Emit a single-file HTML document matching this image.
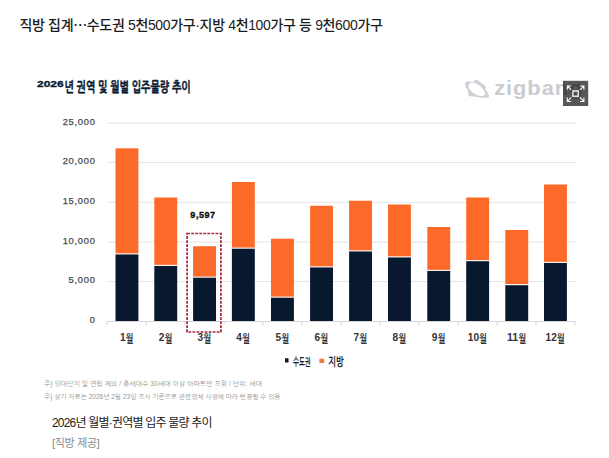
<!DOCTYPE html>
<html lang="ko"><head><meta charset="utf-8"><title>직방 집계</title>
<style>
html,body{margin:0;padding:0;background:#fff;}
body{width:609px;height:458px;position:relative;overflow:hidden;font-family:"Liberation Sans","Noto Sans CJK KR",sans-serif;}
.hd{position:absolute;left:19.5px;top:13px;font-size:14px;line-height:22px;color:#1c1c1c;white-space:nowrap;letter-spacing:-0.35px;font-weight:500;}
.el{font-family:"Noto Sans CJK JP","Noto Sans CJK KR",sans-serif;}
.cap{position:absolute;left:52px;top:412.5px;font-size:12px;line-height:20px;color:#1c1c1c;white-space:nowrap;letter-spacing:-0.8px;}
.src{position:absolute;left:52px;top:432.5px;font-size:11px;line-height:20px;color:#8a8a8a;white-space:nowrap;letter-spacing:-0.3px;}
svg text{font-family:"Liberation Sans","NanumGothic","Noto Sans CJK KR",sans-serif;}
.yl{font-size:9.3px;fill:#4a4a4a;letter-spacing:0.75px;stroke:#4a4a4a;stroke-width:0.25px;}
.xd{font-size:10px;fill:#333;font-weight:bold;}
.xw{font-size:10.5px;fill:#333;font-weight:bold;}
.vl{font-size:9.1px;font-weight:bold;fill:#0a0a0a;letter-spacing:0.5px;stroke:#0a0a0a;stroke-width:0.3px;}
.lg{font-size:9px;fill:#1a1a1a;font-weight:bold;}
.tt{font-size:11px;font-weight:bold;fill:#0b1a33;stroke:#0b1a33;stroke-width:0.35px;}
.td{font-size:9.8px;}
.fn{font-size:6.6px;fill:#959595;}
.zb{font-family:"Liberation Sans",sans-serif;font-size:19.5px;font-weight:bold;fill:#c9ccd2;letter-spacing:0.85px;}
</style></head><body>
<div class="hd">직방 집계<span class="el">…</span>수도권 5천500가구·지방 4천100가구 등 9천600가구</div>
<svg width="609" height="458" viewBox="0 0 609 458" style="position:absolute;left:0;top:0">
<rect x="107" y="122.5" width="468.5" height="1" fill="#e4e4e4"/>
<rect x="107" y="161.9" width="468.5" height="1" fill="#e4e4e4"/>
<rect x="107" y="201.8" width="468.5" height="1" fill="#e4e4e4"/>
<rect x="107" y="241.5" width="468.5" height="1" fill="#e4e4e4"/>
<rect x="107" y="281.1" width="468.5" height="1" fill="#e4e4e4"/>
<rect x="107" y="321" width="468.5" height="1" fill="#d8d8d8"/>
<rect x="106.5" y="321" width="1" height="4.2" fill="#d6d6d6"/>
<rect x="145.5" y="321" width="1" height="4.2" fill="#d6d6d6"/>
<rect x="184.5" y="321" width="1" height="4.2" fill="#d6d6d6"/>
<rect x="223.5" y="321" width="1" height="4.2" fill="#d6d6d6"/>
<rect x="262.5" y="321" width="1" height="4.2" fill="#d6d6d6"/>
<rect x="301.5" y="321" width="1" height="4.2" fill="#d6d6d6"/>
<rect x="340.5" y="321" width="1" height="4.2" fill="#d6d6d6"/>
<rect x="379.5" y="321" width="1" height="4.2" fill="#d6d6d6"/>
<rect x="418.5" y="321" width="1" height="4.2" fill="#d6d6d6"/>
<rect x="457.5" y="321" width="1" height="4.2" fill="#d6d6d6"/>
<rect x="496.5" y="321" width="1" height="4.2" fill="#d6d6d6"/>
<rect x="535.5" y="321" width="1" height="4.2" fill="#d6d6d6"/>
<rect x="574.5" y="321" width="1" height="4.2" fill="#d6d6d6"/>
<rect x="115.50" y="148.3" width="22.9" height="105.05" fill="#fc6a29"/>
<rect x="115.50" y="254.45" width="22.9" height="66.55" fill="#07182f"/>
<rect x="154.30" y="197.5" width="22.9" height="67.35" fill="#fc6a29"/>
<rect x="154.30" y="265.95" width="22.9" height="55.05" fill="#07182f"/>
<rect x="193.10" y="246.25" width="22.9" height="30.35" fill="#fc6a29"/>
<rect x="193.10" y="277.70" width="22.9" height="43.30" fill="#07182f"/>
<rect x="231.90" y="182.0" width="22.9" height="65.60" fill="#fc6a29"/>
<rect x="231.90" y="248.70" width="22.9" height="72.30" fill="#07182f"/>
<rect x="271.00" y="238.75" width="22.9" height="57.85" fill="#fc6a29"/>
<rect x="271.00" y="297.70" width="22.9" height="23.30" fill="#07182f"/>
<rect x="310.10" y="205.75" width="22.9" height="60.60" fill="#fc6a29"/>
<rect x="310.10" y="267.45" width="22.9" height="53.55" fill="#07182f"/>
<rect x="349.10" y="200.75" width="22.9" height="49.60" fill="#fc6a29"/>
<rect x="349.10" y="251.45" width="22.9" height="69.55" fill="#07182f"/>
<rect x="388.00" y="204.5" width="22.9" height="51.85" fill="#fc6a29"/>
<rect x="388.00" y="257.45" width="22.9" height="63.55" fill="#07182f"/>
<rect x="427.30" y="227.0" width="22.9" height="42.85" fill="#fc6a29"/>
<rect x="427.30" y="270.95" width="22.9" height="50.05" fill="#07182f"/>
<rect x="466.20" y="197.5" width="22.9" height="62.60" fill="#fc6a29"/>
<rect x="466.20" y="261.20" width="22.9" height="59.80" fill="#07182f"/>
<rect x="505.30" y="230.0" width="22.9" height="54.10" fill="#fc6a29"/>
<rect x="505.30" y="285.20" width="22.9" height="35.80" fill="#07182f"/>
<rect x="544.00" y="184.5" width="22.9" height="77.35" fill="#fc6a29"/>
<rect x="544.00" y="262.95" width="22.9" height="58.05" fill="#07182f"/>
<rect x="187.1" y="233.5" width="33.8" height="98.5" fill="none" stroke="#a3263a" stroke-width="1.7" stroke-dasharray="2.8 1.25"/>
<text x="95.6" y="124.8" text-anchor="end" class="yl">25,000</text>
<text x="95.6" y="164.20000000000002" text-anchor="end" class="yl">20,000</text>
<text x="95.6" y="204.10000000000002" text-anchor="end" class="yl">15,000</text>
<text x="95.6" y="243.8" text-anchor="end" class="yl">10,000</text>
<text x="95.6" y="283.40000000000003" text-anchor="end" class="yl">5,000</text>
<text x="95.6" y="323.3" text-anchor="end" class="yl">0</text>
<text x="120.0" y="340.6" class="xd" textLength="5.6" lengthAdjust="spacingAndGlyphs">1</text>
<text transform="translate(125.8 342.6) scale(0.8 1.12)" class="xw">월</text>
<text x="158.8" y="340.6" class="xd" textLength="5.6" lengthAdjust="spacingAndGlyphs">2</text>
<text transform="translate(164.7 342.6) scale(0.8 1.12)" class="xw">월</text>
<text x="197.5" y="340.6" class="xd" textLength="5.6" lengthAdjust="spacingAndGlyphs">3</text>
<text transform="translate(203.4 342.6) scale(0.8 1.12)" class="xw">월</text>
<text x="236.3" y="340.6" class="xd" textLength="5.6" lengthAdjust="spacingAndGlyphs">4</text>
<text transform="translate(242.2 342.6) scale(0.8 1.12)" class="xw">월</text>
<text x="275.4" y="340.6" class="xd" textLength="5.6" lengthAdjust="spacingAndGlyphs">5</text>
<text transform="translate(281.4 342.6) scale(0.8 1.12)" class="xw">월</text>
<text x="314.6" y="340.6" class="xd" textLength="5.6" lengthAdjust="spacingAndGlyphs">6</text>
<text transform="translate(320.5 342.6) scale(0.8 1.12)" class="xw">월</text>
<text x="353.6" y="340.6" class="xd" textLength="5.6" lengthAdjust="spacingAndGlyphs">7</text>
<text transform="translate(359.5 342.6) scale(0.8 1.12)" class="xw">월</text>
<text x="392.4" y="340.6" class="xd" textLength="5.6" lengthAdjust="spacingAndGlyphs">8</text>
<text transform="translate(398.4 342.6) scale(0.8 1.12)" class="xw">월</text>
<text x="431.8" y="340.6" class="xd" textLength="5.6" lengthAdjust="spacingAndGlyphs">9</text>
<text transform="translate(437.7 342.6) scale(0.8 1.12)" class="xw">월</text>
<text x="467.8" y="340.6" class="xd" textLength="11.2" lengthAdjust="spacingAndGlyphs">10</text>
<text transform="translate(479.3 342.6) scale(0.8 1.12)" class="xw">월</text>
<text x="506.9" y="340.6" class="xd" textLength="11.2" lengthAdjust="spacingAndGlyphs">11</text>
<text transform="translate(518.4 342.6) scale(0.8 1.12)" class="xw">월</text>
<text x="545.6" y="340.6" class="xd" textLength="11.2" lengthAdjust="spacingAndGlyphs">12</text>
<text transform="translate(557.1 342.6) scale(0.8 1.12)" class="xw">월</text>
<text x="203" y="218.2" text-anchor="middle" class="vl">9,597</text>
<rect x="285" y="358.3" width="3.5" height="4.2" fill="#07182f"/>
<text transform="translate(293 365.6) scale(1 1.25)" class="lg" textLength="17.8" lengthAdjust="spacingAndGlyphs">수도권</text>
<rect x="319.4" y="358.7" width="4.8" height="4.3" fill="#ee7b3f"/>
<text transform="translate(328.2 365.8) scale(1 1.35)" class="lg" textLength="15.6" lengthAdjust="spacingAndGlyphs">지방</text>
<text x="37" y="87.3" class="tt td" textLength="26.6" lengthAdjust="spacingAndGlyphs">2026</text>
<text transform="translate(64.4 91.7) scale(1 1.27)" class="tt" textLength="126.3" lengthAdjust="spacingAndGlyphs">년 권역 및 월별 입주물량 추이</text>
<text x="44" y="385.6" class="fn" textLength="218" lengthAdjust="spacingAndGlyphs">주) 임대단지 및 연립 제외 / 총세대수 30세대 이상 아파트만 포함 / 단위: 세대</text>
<text x="44" y="398.8" class="fn" textLength="236.5" lengthAdjust="spacingAndGlyphs">주) 상기 자료는 2026년 2월 23일 조사 기준으로 관련업체 사정에 따라 변경될 수 있음</text>
<path fill="#cdd1d6" fill-rule="evenodd" d="M465 83.4 Q465.2 81.6 467.6 81.3 L472.6 82 L475.4 80 Q476.6 79.4 477.8 80.2 L485 85.8 Q485.8 86.6 485.7 88 L485.6 89.6 Q488.2 93 489 95.6 Q489.4 97.8 487.2 97.8 Q481 97.9 474.2 96.6 L469.6 96.3 Q468.2 96.2 468.2 94.8 L468.3 91.4 Q465.2 87.2 465 83.4 Z
M469.2 84 Q467.2 86.6 471 91 Q475.4 95.4 481 96 Q485.2 96.2 485 93.2 Q484.6 90 480.8 86.4 Q476.4 82.8 472.4 82.6 Q470.2 82.6 469.2 84 Z"/>
<text transform="translate(494.2 94.6) scale(1.12 1)" class="zb">zigbang</text>
<rect x="563" y="80.8" width="25.2" height="25.2" fill="#000" fill-opacity="0.66"/>
<g fill="none" stroke="#fff" stroke-width="1.05" stroke-linecap="square" stroke-linejoin="miter">
<path d="M567.3 89.3 V86 H570.6 M567.7 86.4 L570.9 89.6"/>
<path d="M583.9 89.3 V86 H580.6 M583.5 86.4 L580.3 89.6"/>
<path d="M567.3 98.1 V101.4 H570.6 M567.7 101 L570.9 97.8"/>
<path d="M583.9 98.1 V101.4 H580.6 M583.5 101 L580.3 97.8"/>
<rect x="572.9" y="91" width="5.3" height="5.3" stroke-width="1.5" stroke="#e8e8e8"/>
</g>
</svg>
<div class="cap">2026년 월별·권역별 입주 물량 추이</div>
<div class="src">[직방 제공]</div>
</body></html>
